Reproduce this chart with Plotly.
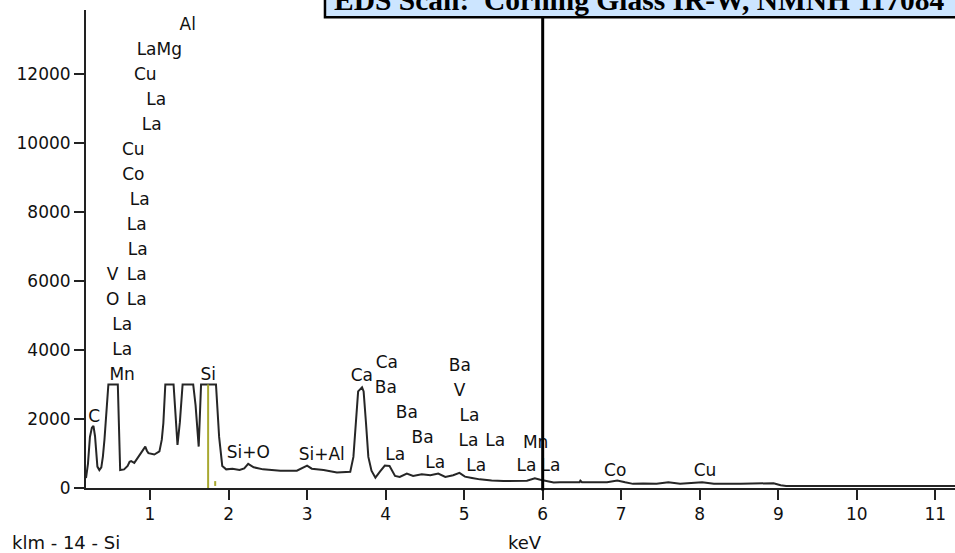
import plotly.graph_objects as go

# Spectrum (keV, counts)
energy = [0.185, 0.21, 0.235, 0.26, 0.28, 0.30, 0.33, 0.355, 0.38, 0.40, 0.42, 0.44, 0.46, 0.47,
          0.59, 0.60, 0.62, 0.67, 0.715, 0.74, 0.76, 0.80, 0.84, 0.885, 0.92, 0.94, 0.96, 0.98,
          1.055, 1.10, 1.12, 1.15, 1.17, 1.195, 1.30, 1.32, 1.35, 1.38, 1.415, 1.55, 1.58, 1.62,
          1.65, 1.84, 1.86, 1.88, 1.92, 1.97, 2.05, 2.14, 2.20, 2.25, 2.32, 2.44, 2.55, 2.66,
          2.87, 2.93, 3.00, 3.06, 3.21, 3.38, 3.55, 3.59, 3.62, 3.65, 3.70, 3.72, 3.75, 3.78,
          3.82, 3.87, 3.93, 3.99, 4.05, 4.12, 4.18, 4.27, 4.35, 4.46, 4.57, 4.67, 4.76, 4.86,
          4.94, 5.01, 5.10, 5.20, 5.35, 5.50, 5.80, 5.90, 5.97, 6.05, 6.14, 6.22, 6.47, 6.48,
          6.50, 6.82, 6.95, 7.05, 7.15, 7.28, 7.45, 7.60, 7.75, 8.03, 8.18, 8.52, 8.73, 8.94,
          9.03, 9.10, 11.25]
counts = [290, 700, 1480, 1750, 1800, 1500, 620, 520, 600, 910, 1400, 1970, 2700, 3000,
          3000, 1900, 520, 540, 640, 760, 780, 730, 870, 1010, 1150, 1200, 1080, 1010,
          970, 1040, 1060, 1400, 1880, 3000, 3000, 2300, 1250, 1900, 3000, 3000, 2400, 1200,
          3000, 3000, 2200, 1480, 640, 540, 560, 520, 570, 700, 600, 540, 520, 500,
          500, 570, 650, 560, 520, 450, 470, 900, 1890, 2800, 2920, 2800, 1890, 900,
          500, 300, 480, 650, 640, 350, 320, 420, 350, 400, 370, 420, 320, 370,
          440, 330, 290, 250, 220, 200, 210, 280, 240, 200, 160, 165, 165, 210,
          165, 165, 220, 165, 120, 130, 120, 165, 120, 165, 120, 120, 130, 140,
          80, 60, 60]

# Element marker labels (text, keV, counts)
label_text = ["Al", "LaMg", "Cu", "La", "La", "Cu", "Co", "La", "La", "La", "V", "La", "O", "La",
              "La", "La", "Mn", "C", "Si", "Si+O", "Si+Al", "Ca", "Ca", "Ba", "Ba", "Ba", "La",
              "La", "Ba", "V", "La", "La", "La", "Mn", "La", "La", "La", "Co", "Cu"]
label_px = [187.7, 159.3, 145.3, 156.3, 151.7, 133.3, 133.3, 139.7, 136.7, 137.8, 112.7, 136.7,
            112.7, 136.7, 122.2, 122.2, 122.2, 94.3, 208.3, 248.3, 321.7, 361.7, 386.7, 385.8,
            406.7, 422.5, 395.0, 435.0, 459.7, 459.3, 469.3, 468.3, 495.0, 535.5, 476.0, 526.3,
            550.3, 615.0, 704.7]
label_py = [24.2, 48.5, 73.5, 98.5, 123.5, 148.5, 173.5, 198.5, 223.5, 248.5, 273.5, 273.5,
            298.5, 298.5, 323.5, 348.5, 373.5, 415.8, 373.5, 451.7, 453.3, 375.0, 361.7, 386.7,
            411.7, 436.7, 453.3, 461.7, 365.0, 390.0, 415.0, 440.0, 440.0, 441.7, 465.0, 465.0,
            465.0, 470.0, 470.0]
label_x = [(p - 71.5) / 78.5 for p in label_px]
label_y = [(486 - p) * 28.99 for p in label_py]

x_ticks = [1, 2, 3, 4, 5, 6, 7, 8, 9, 10, 11]
y_ticks = [0, 2000, 4000, 6000, 8000, 10000, 12000]
y_tick_text = ["0", "2000", "4000", "6000", "8000", "10000", "12000"]

fig = go.Figure()
fig.add_trace(go.Scatter(x=energy, y=counts, mode="lines",
                         line=dict(color="#262626", width=2), hoverinfo="skip"))
fig.add_trace(go.Scatter(x=label_x, y=label_y, mode="text", text=label_text,
                         textposition="middle center",
                         textfont=dict(family="DejaVu Sans", size=17, color="#111111"),
                         hoverinfo="skip"))

# markers: Si line and small tick, cursor at 6 keV
fig.add_shape(type="line", x0=1.74, x1=1.74, y0=0, y1=3000,
              line=dict(color="#a8a830", width=2))
fig.add_shape(type="line", x0=1.83, x1=1.83, y0=60, y1=200,
              line=dict(color="#a8a830", width=2))
fig.add_shape(type="line", x0=6, x1=6, y0=-0.005, y1=1.0, yref="paper",
              line=dict(color="black", width=3))

# title box
fig.add_shape(type="rect", xref="paper", yref="paper", x0=0.275, x1=1.02, y0=0.985, y1=1.2,
              fillcolor="#cce5ff", line=dict(color="black", width=2.5), layer="above")
fig.add_annotation(xref="paper", yref="paper", x=0.283, y=0.984, xanchor="left", yanchor="bottom",
                   text="<b>EDS Scan:  Corning Glass IR-W, NMNH 117084</b>", showarrow=False,
                   font=dict(family="Liberation Serif", size=29.5, color="black"))

fig.add_annotation(xref="paper", yref="paper", x=-0.088, y=-0.115, xanchor="left", yanchor="middle",
                   text="klm - 14 - Si", showarrow=False,
                   font=dict(family="DejaVu Sans", size=18, color="#111111"))
fig.add_annotation(xref="paper", yref="paper", x=0.505, y=-0.115, xanchor="center", yanchor="middle",
                   text="keV", showarrow=False,
                   font=dict(family="DejaVu Sans", size=18, color="#111111"))

fig.update_layout(
    width=955, height=553,
    margin=dict(l=86, r=0, t=10, b=65),
    paper_bgcolor="white", plot_bgcolor="white",
    showlegend=False,
    xaxis=dict(range=[0.185, 11.25], tickvals=x_ticks, ticks="outside", ticklen=10, tickwidth=2,
               tickcolor="#222222", showline=True, linecolor="#222222", linewidth=2,
               showgrid=False, zeroline=False,
               tickfont=dict(family="DejaVu Sans", size=17, color="#111111")),
    yaxis=dict(range=[0, 13850], tickvals=y_ticks, ticktext=y_tick_text, ticks="outside",
               ticklen=10, tickwidth=2,
               tickcolor="#222222", showline=True, linecolor="#222222", linewidth=2,
               showgrid=False, zeroline=False,
               tickfont=dict(family="DejaVu Sans", size=17, color="#111111")),
)

fig.write_html("out.html", config={"displayModeBar": False},
               post_script="document.body.style.margin='0';")
